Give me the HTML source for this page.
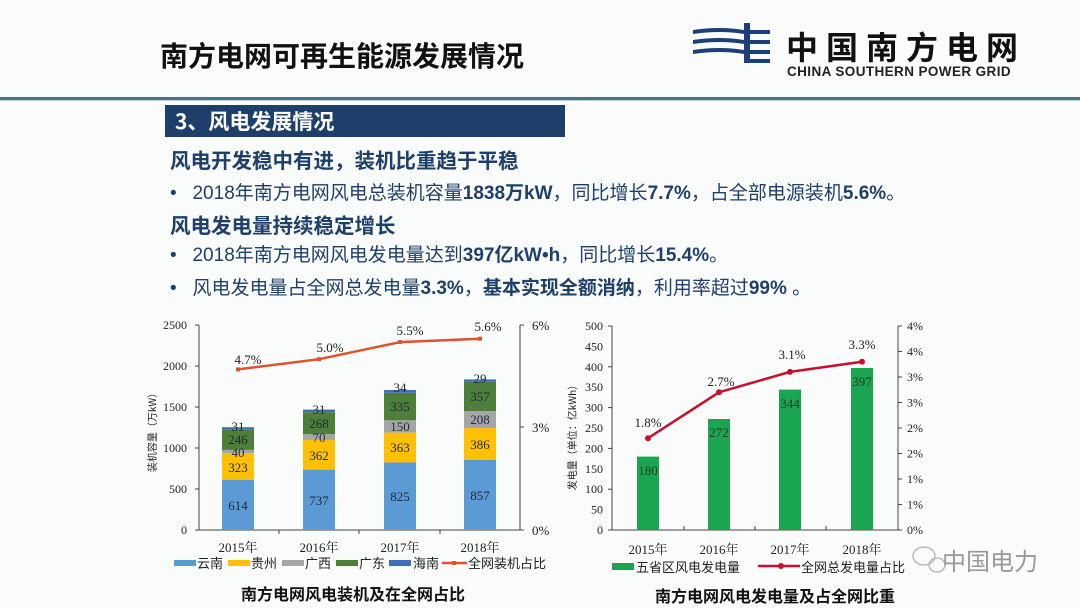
<!DOCTYPE html>
<html><head><meta charset="utf-8"><style>
html,body{margin:0;padding:0;background:#fafbfb;}
body{width:1080px;height:608px;overflow:hidden;position:relative;font-family:"Liberation Sans","Noto Sans CJK SC",sans-serif;}
.a{position:absolute;white-space:nowrap;}
</style></head><body>
<svg width="1080" height="608" style="position:absolute;left:0;top:0" font-family="'Liberation Serif','Noto Serif CJK SC',serif">
<rect x="0" y="97" width="1080" height="3" fill="#4f7186"/>
<rect x="0" y="100" width="1080" height="1" fill="#bcd0dc"/>
<rect x="165" y="105" width="400" height="32" fill="#1f3f6b"/>
<!-- logo -->
<g fill="#1a3f7a">
<rect x="744" y="23" width="6" height="40"/>
<path d="M693 30 Q720 26 744 30 L744 34 Q720 30 693 34Z"/>
<path d="M693 40 Q720 36 744 40 L744 44 Q720 40 693 44Z"/>
<path d="M693 50 Q720 46 744 50 L744 54 Q720 50 693 54Z"/>
<rect x="750" y="30" width="20" height="4"/><rect x="750" y="40" width="20" height="4"/><rect x="750" y="50" width="20" height="4"/><rect x="750" y="59" width="20" height="4"/>
</g>
<!-- LEFT CHART -->
<g stroke="#444" stroke-width="1" fill="none">
<line x1="199" y1="325" x2="199" y2="530"/><line x1="199" y1="530" x2="520" y2="530"/><line x1="520" y1="325" x2="520" y2="530"/>
<line x1="195" y1="530" x2="199" y2="530"/><line x1="195" y1="489" x2="199" y2="489"/><line x1="195" y1="448" x2="199" y2="448"/><line x1="195" y1="407" x2="199" y2="407"/><line x1="195" y1="366" x2="199" y2="366"/><line x1="195" y1="325" x2="199" y2="325"/>
<line x1="520" y1="325" x2="524" y2="325"/><line x1="520" y1="427" x2="524" y2="427"/><line x1="520" y1="530" x2="524" y2="530"/>
<line x1="279" y1="530" x2="279" y2="534"/><line x1="359" y1="530" x2="359" y2="534"/><line x1="440" y1="530" x2="440" y2="534"/>
</g>
<g font-size="12" fill="#222" text-anchor="end">
<text x="187" y="534">0</text><text x="187" y="493">500</text><text x="187" y="452">1000</text><text x="187" y="411">1500</text><text x="187" y="370">2000</text><text x="187" y="329">2500</text>
</g>
<g font-size="13" fill="#222"><text x="532" y="330">6%</text><text x="532" y="432">3%</text><text x="532" y="535">0%</text></g>
<text transform="translate(156,430) rotate(-90)" font-size="10" fill="#222" text-anchor="middle" font-family="'Noto Sans CJK SC',sans-serif">装机容量（万kW）</text>
<g>
<rect x="222" y="479.7" width="32" height="50.3" fill="#5b9bd5"/><rect x="222" y="453.2" width="32" height="26.5" fill="#ffc000"/><rect x="222" y="449.9" width="32" height="3.3" fill="#a5a5a5"/><rect x="222" y="429.7" width="32" height="20.2" fill="#4e7f3a"/><rect x="222" y="427.2" width="32" height="2.5" fill="#3f6fb0"/>
<rect x="303" y="469.6" width="32" height="60.4" fill="#5b9bd5"/><rect x="303" y="439.9" width="32" height="29.7" fill="#ffc000"/><rect x="303" y="434.1" width="32" height="5.8" fill="#a5a5a5"/><rect x="303" y="412.2" width="32" height="21.9" fill="#4e7f3a"/><rect x="303" y="409.6" width="32" height="2.6" fill="#3f6fb0"/>
<rect x="384" y="462.4" width="32" height="67.6" fill="#5b9bd5"/><rect x="384" y="432.6" width="32" height="29.8" fill="#ffc000"/><rect x="384" y="420.3" width="32" height="12.3" fill="#a5a5a5"/><rect x="384" y="392.8" width="32" height="27.5" fill="#4e7f3a"/><rect x="384" y="390" width="32" height="2.8" fill="#3f6fb0"/>
<rect x="464" y="459.7" width="32" height="70.3" fill="#5b9bd5"/><rect x="464" y="428.1" width="32" height="31.6" fill="#ffc000"/><rect x="464" y="411" width="32" height="17.1" fill="#a5a5a5"/><rect x="464" y="381.7" width="32" height="29.3" fill="#4e7f3a"/><rect x="464" y="379.4" width="32" height="2.3" fill="#3f6fb0"/>
</g>
<g font-size="13" fill="#1c2a3a" text-anchor="middle">
<text x="238" y="510">614</text><text x="238" y="472">323</text><text x="238" y="457">40</text><text x="238" y="444">246</text><text x="238" y="431">31</text>
<text x="319" y="505">737</text><text x="319" y="460">362</text><text x="319" y="442">70</text><text x="319" y="428">268</text><text x="319" y="414">31</text>
<text x="400" y="501">825</text><text x="400" y="452">363</text><text x="400" y="431">150</text><text x="400" y="411">335</text><text x="400" y="392">34</text>
<text x="480" y="500">857</text><text x="480" y="449">386</text><text x="480" y="424">208</text><text x="480" y="401">357</text><text x="480" y="383">29</text>
</g>
<polyline points="238,369.4 319,359.2 400,342.1 480,338.7" fill="none" stroke="#e0522a" stroke-width="2.5"/>
<g fill="#e0522a"><rect x="236" y="367.4" width="4" height="4"/><rect x="317" y="357.2" width="4" height="4"/><rect x="398" y="340.1" width="4" height="4"/><rect x="478" y="336.7" width="4" height="4"/></g>
<g font-size="13" fill="#222" text-anchor="middle"><text x="248" y="364">4.7%</text><text x="330" y="352">5.0%</text><text x="410" y="335">5.5%</text><text x="488" y="331">5.6%</text></g>
<g font-size="13" fill="#222" text-anchor="middle"><text x="238" y="552">2015年</text><text x="319" y="552">2016年</text><text x="400" y="552">2017年</text><text x="480" y="552">2018年</text></g>
<g font-size="13" fill="#222" font-family="'Noto Sans CJK SC',sans-serif">
<rect x="174" y="560" width="22" height="6" fill="#5b9bd5"/><text x="197" y="568">云南</text>
<rect x="228" y="560" width="22" height="6" fill="#ffc000"/><text x="251" y="568">贵州</text>
<rect x="282" y="560" width="22" height="6" fill="#a5a5a5"/><text x="305" y="568">广西</text>
<rect x="336" y="560" width="22" height="6" fill="#4e7f3a"/><text x="359" y="568">广东</text>
<rect x="389" y="560" width="22" height="6" fill="#3f6fb0"/><text x="413" y="568">海南</text>
<line x1="442" y1="563" x2="467" y2="563" stroke="#e0522a" stroke-width="2.5"/><rect x="452" y="561" width="4" height="4" fill="#e0522a"/><text x="468" y="568">全网装机占比</text>
</g>
<text x="353" y="600" font-size="16" font-weight="bold" fill="#111" text-anchor="middle" font-family="'Noto Sans CJK SC',sans-serif">南方电网风电装机及在全网占比</text>
<!-- RIGHT CHART -->
<g stroke="#444" stroke-width="1" fill="none">
<line x1="612" y1="326" x2="612" y2="530"/><line x1="612" y1="530" x2="898" y2="530"/><line x1="898" y1="326" x2="898" y2="530"/>
<line x1="608" y1="530" x2="612" y2="530"/><line x1="608" y1="489.2" x2="612" y2="489.2"/><line x1="608" y1="448.4" x2="612" y2="448.4"/><line x1="608" y1="407.6" x2="612" y2="407.6"/><line x1="608" y1="366.8" x2="612" y2="366.8"/><line x1="608" y1="326" x2="612" y2="326"/>
<line x1="898" y1="530" x2="902" y2="530"/><line x1="898" y1="504.5" x2="902" y2="504.5"/><line x1="898" y1="479" x2="902" y2="479"/><line x1="898" y1="453.5" x2="902" y2="453.5"/><line x1="898" y1="428" x2="902" y2="428"/><line x1="898" y1="402.5" x2="902" y2="402.5"/><line x1="898" y1="377" x2="902" y2="377"/><line x1="898" y1="351.5" x2="902" y2="351.5"/><line x1="898" y1="326" x2="902" y2="326"/>
<line x1="684" y1="530" x2="684" y2="526"/><line x1="755" y1="530" x2="755" y2="526"/><line x1="826" y1="530" x2="826" y2="526"/>
</g>
<g font-size="12" fill="#222" text-anchor="end">
<text x="603" y="534">0</text><text x="603" y="513.6">50</text><text x="603" y="493.2">100</text><text x="603" y="472.8">150</text><text x="603" y="452.4">200</text><text x="603" y="432">250</text><text x="603" y="411.6">300</text><text x="603" y="391.2">350</text><text x="603" y="370.8">400</text><text x="603" y="350.4">450</text><text x="603" y="330">500</text>
</g>
<g font-size="12" fill="#222">
<text x="907" y="534">0%</text><text x="907" y="508.5">1%</text><text x="907" y="483">1%</text><text x="907" y="457.5">2%</text><text x="907" y="432">2%</text><text x="907" y="406.5">3%</text><text x="907" y="381">3%</text><text x="907" y="355.5">4%</text><text x="907" y="330">4%</text>
</g>
<text transform="translate(576,435) rotate(-90)" font-size="10" fill="#222" text-anchor="middle" font-family="'Noto Sans CJK SC',sans-serif">发电量（单位：亿kWh）</text>
<g fill="#1aa650">
<rect x="637" y="456.6" width="22" height="73.4"/><rect x="708" y="419" width="22" height="111"/><rect x="779" y="389.6" width="22" height="140.4"/><rect x="851" y="368" width="22" height="162"/>
</g>
<g font-size="13" fill="#1c3a2a" text-anchor="middle"><text x="648" y="475">180</text><text x="719" y="437">272</text><text x="790" y="408">344</text><text x="862" y="386">397</text></g>
<polyline points="648,438.2 719,392.3 790,371.9 862,361.7" fill="none" stroke="#c8102e" stroke-width="2.5"/>
<g fill="#c8102e"><circle cx="648" cy="438.2" r="3"/><circle cx="719" cy="392.3" r="3"/><circle cx="790" cy="371.9" r="3"/><circle cx="862" cy="361.7" r="3"/></g>
<g font-size="13" fill="#222" text-anchor="middle"><text x="648" y="427">1.8%</text><text x="721" y="386">2.7%</text><text x="792" y="359">3.1%</text><text x="862" y="349">3.3%</text></g>
<g font-size="13" fill="#222" text-anchor="middle"><text x="648" y="554">2015年</text><text x="719" y="554">2016年</text><text x="790" y="554">2017年</text><text x="862" y="554">2018年</text></g>
<g font-size="13" fill="#222" font-family="'Noto Sans CJK SC',sans-serif">
<rect x="612" y="563" width="22" height="7" fill="#1aa650"/><text x="636" y="572">五省区风电发电量</text>
<line x1="758" y1="566" x2="800" y2="566" stroke="#c8102e" stroke-width="2.5"/><circle cx="781" cy="566" r="3" fill="#c8102e"/><text x="801" y="572">全网总发电量占比</text>
</g>
<text x="775" y="602" font-size="16" font-weight="bold" fill="#111" text-anchor="middle" font-family="'Noto Sans CJK SC',sans-serif">南方电网风电发电量及占全网比重</text>
<!-- watermark -->
<g stroke="#bbb" fill="none" stroke-width="1.5"><ellipse cx="924" cy="556" rx="11" ry="9"/><ellipse cx="937" cy="565" rx="8" ry="7"/></g>
<text x="942" y="570" font-size="24" fill="#999" font-family="'Noto Sans CJK SC',sans-serif">中国电力</text>
</svg>
<div class="a" style="left:160px;top:37px;font-size:28px;font-weight:bold;color:#111;font-family:'Noto Sans CJK SC',sans-serif;line-height:36px">南方电网可再生能源发展情况</div>
<div class="a" style="left:786px;top:28px;font-size:32px;font-weight:bold;color:#111;letter-spacing:8px;font-family:'Noto Sans CJK SC',sans-serif;line-height:36px">中国南方电网</div>
<div class="a" style="left:787px;top:64px;font-size:13.5px;font-weight:bold;color:#222;letter-spacing:0.4px">CHINA SOUTHERN POWER GRID</div>
<div class="a" style="left:175px;top:106px;font-size:21px;font-weight:bold;color:#fff;font-family:'Noto Sans CJK SC',sans-serif;line-height:30px">3、风电发展情况</div>
<div class="a" style="left:170px;top:145px;font-size:20.5px;font-weight:bold;color:#1f3f6b;font-family:'Noto Sans CJK SC',sans-serif;line-height:28px">风电开发稳中有进，装机比重趋于平稳</div>
<div class="a" style="left:170px;top:181px;font-size:19px;color:#1f3f6b;font-family:'Liberation Sans','Noto Sans CJK SC',sans-serif;line-height:26px">•&nbsp;&nbsp;&nbsp;2018年南方电网风电总装机容量<b>1838万kW</b>，同比增长<b>7.7%</b>，占全部电源装机<b>5.6%</b>。</div>
<div class="a" style="left:170px;top:210px;font-size:20.5px;font-weight:bold;color:#1f3f6b;font-family:'Noto Sans CJK SC',sans-serif;line-height:28px">风电发电量持续稳定增长</div>
<div class="a" style="left:170px;top:243px;font-size:19px;color:#1f3f6b;font-family:'Liberation Sans','Noto Sans CJK SC',sans-serif;line-height:26px">•&nbsp;&nbsp;&nbsp;2018年南方电网风电发电量达到<b>397亿kW•h</b>，同比增长<b>15.4%</b>。</div>
<div class="a" style="left:170px;top:276px;font-size:19px;color:#1f3f6b;font-family:'Liberation Sans','Noto Sans CJK SC',sans-serif;line-height:26px">•&nbsp;&nbsp;&nbsp;风电发电量占全网总发电量<b>3.3%</b>，<b>基本实现全额消纳</b>，利用率超过<b>99%</b> 。</div>
</body></html>
